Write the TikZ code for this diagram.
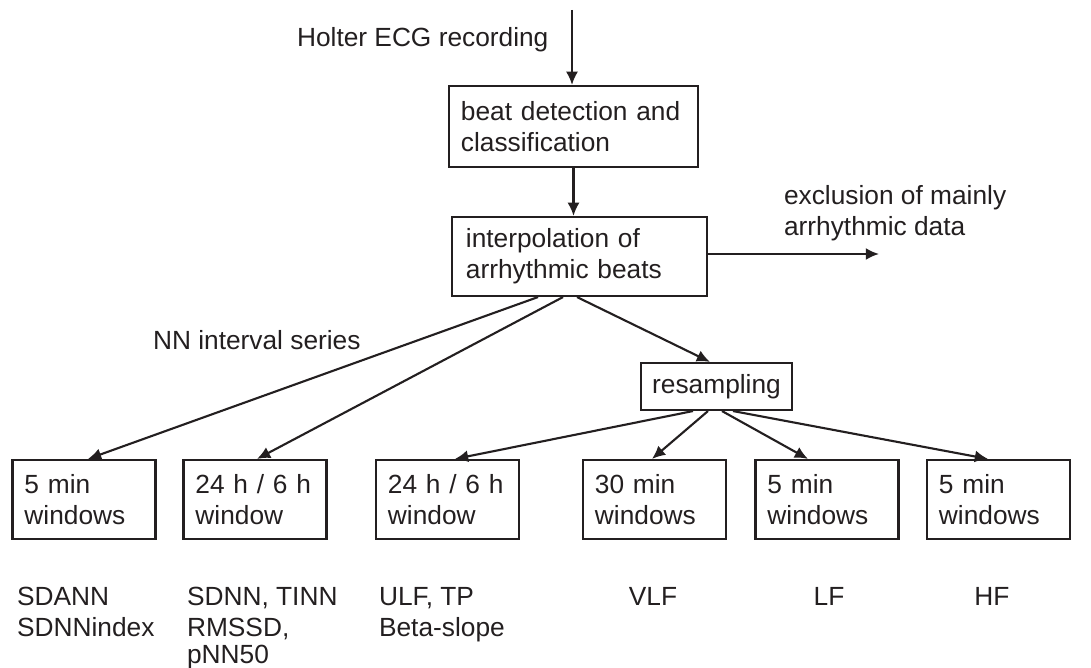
\documentclass[tikz,border=0pt]{standalone}
\usepackage{fontspec}
\setmainfont{Liberation Sans}
\usepackage{tikz}
\usetikzlibrary{arrows.meta, positioning, calc}
\definecolor{ink}{HTML}{231F20}

\begin{document}
\begin{tikzpicture}[x=0.025cm, y=-0.025cm, line width=1.5pt, color=ink,
    font=\fontsize{18.7}{22}\selectfont,
    box/.style={draw, align=left, inner ysep=0pt},
    winbox/.style={box, text width=2.975cm, inner xsep=0.3cm, minimum height=1.975cm},
    txt/.style={inner sep=0pt, align=left},
    arr/.style={-{Latex[length=0.33cm, width=0.3cm]}}]
    \useasboundingbox (0,0) rectangle (1091,668);

    % Preprocessing chain
    \coordinate (rec) at (572,10);
    \node[txt, anchor=north west] (holter) at (296,26) {Holter ECG recording};
    \node[box, text width=5.625cm, inner xsep=0.3cm, minimum height=2.025cm] (det) at (573.5,126.5) {beat detection and\\classification};
    \node[box, text width=5.675cm, inner xsep=0.35cm, minimum height=1.975cm] (interp) at (579.5,256.5) {interpolation of\\arrhythmic beats};
    \coordinate (excl) at (879,254);
    \node[txt, anchor=north west] (exclt) at (783,184) {exclusion of mainly\\arrhythmic data};
    \node[txt, anchor=west] (nn) at (152,340) {NN interval series};
    \node[draw, minimum width=3.775cm, minimum height=1.175cm] (res) at (716.5,386.5) {resampling};

    % Analysis windows
    \node[winbox] (w1) at (84,499.5) {5 min\\windows};
    \node[winbox] (w2) at (255,499.5) {24 h / 6 h\\window};
    \node[winbox] (w3) at (447.5,499.5) {24 h / 6 h\\window};
    \node[winbox] (w4) at (654.5,499.5) {30 min\\windows};
    \node[winbox] (w5) at (827,499.5) {5 min\\windows};
    \node[winbox] (w6) at (998.5,499.5) {5 min\\windows};

    % Parameters
    \node[txt, anchor=north west] (p1) at (16,586) {SDANN\\SDNNindex};
    \node[txt, anchor=north west] (p2) at (186,586) {SDNN, TINN\\RMSSD,\\[-3pt]pNN50};
    \node[txt, anchor=north west] (p3) at (378,586) {ULF, TP\\Beta-slope};
    \node[txt, anchor=north] (p4) at (653,586) {VLF};
    \node[txt, anchor=north] (p5) at (829,586) {LF};
    \node[txt, anchor=north] (p6) at (992,586) {HF};

    % Arrows
    \draw[arr] (rec) -- (rec |- det.north);
    \draw[arr] (det.south) -- (det.south |- interp.north);
    \draw[arr] (interp.east |- excl) -- (excl);
    \draw[arr] ($(interp.south)+(-41.5,0)$) -- ($(w1.north)+(4,0)$);
    \draw[arr] ($(interp.south)+(-16.5,0)$) -- ($(w2.north)+(2,0)$);
    \draw[arr] ($(interp.south)+(-2.5,0)$) -- ($(res.north)+(-6.5,0)$);
    \draw[arr] ($(res.south)+(-23.5,0)$) -- ($(w3.north)+(7.5,0)$);
    \draw[arr] ($(res.south)+(-8.5,0)$) -- ($(w4.north)+(-2.5,0)$);
    \draw[arr] ($(res.south)+(5.5,0)$) -- ($(w5.north)+(-19,0)$);
    \draw[arr] ($(res.south)+(16.5,0)$) -- ($(w6.north)+(-10.5,0)$);
\end{tikzpicture}
\end{document}
